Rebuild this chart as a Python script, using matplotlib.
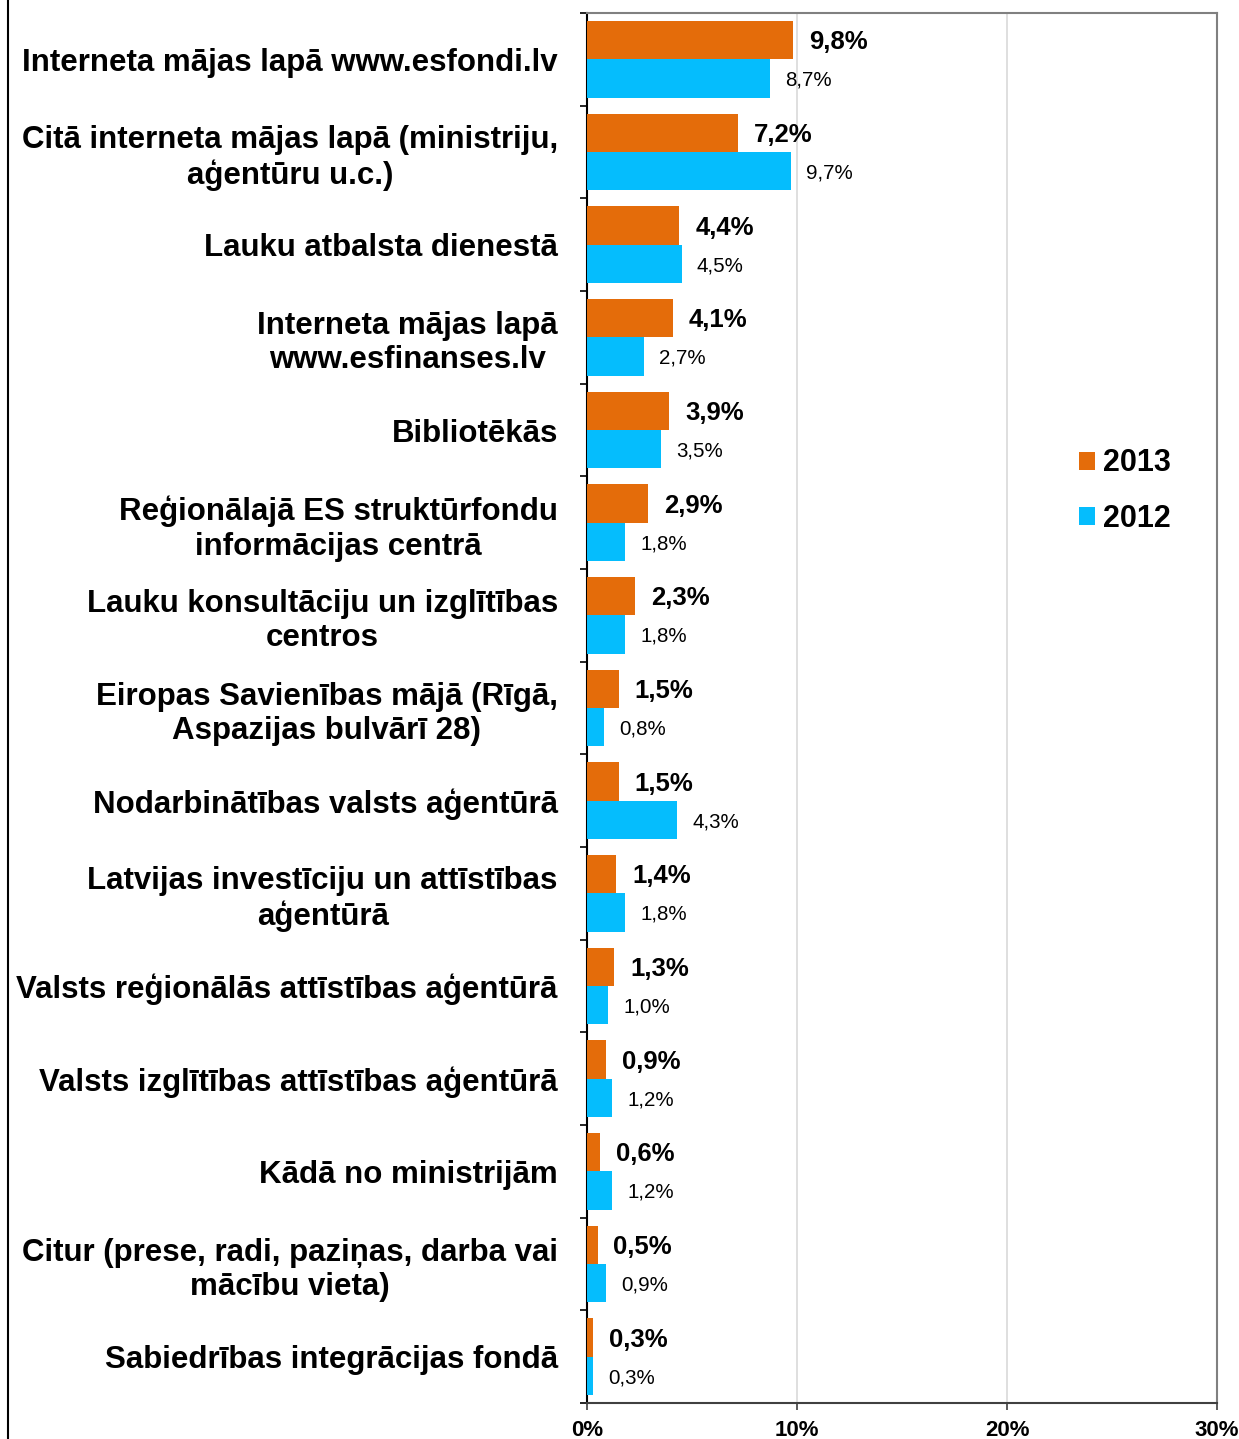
import matplotlib
matplotlib.use("Agg")
import matplotlib.pyplot as plt
from matplotlib.patches import Patch
from matplotlib.lines import Line2D
import numpy as np

categories = [
    "Interneta mājas lapā www.esfondi.lv",
    "Citā interneta mājas lapā (ministriju,\naģentūru u.c.)",
    "Lauku atbalsta dienestā",
    "Interneta mājas lapā\nwww.esfinanses.lv",
    "Bibliotēkās",
    "Reģionālajā ES struktūrfondu\ninformācijas centrā",
    "Lauku konsultāciju un izglītības\ncentros",
    "Eiropas Savienības mājā (Rīgā,\nAspazijas bulvārī 28)",
    "Nodarbinātības valsts aģentūrā",
    "Latvijas investīciju un attīstības\naģentūrā",
    "Valsts reģionālās attīstības aģentūrā",
    "Valsts izglītības attīstības aģentūrā",
    "Kādā no ministrijām",
    "Citur (prese, radi, paziņas, darba vai\nmācību vieta)",
    "Sabiedrības integrācijas fondā",
]
values_2013 = [9.8, 7.2, 4.4, 4.1, 3.9, 2.9, 2.3, 1.5, 1.5, 1.4, 1.3, 0.9, 0.6, 0.5, 0.3]
values_2012 = [8.7, 9.7, 4.5, 2.7, 3.5, 1.8, 1.8, 0.8, 4.3, 1.8, 1.0, 1.2, 1.2, 0.9, 0.3]
series_names = ["2013", "2012"]
x_ticks = [0, 10, 20, 30]
x_tick_labels = ["0%", "10%", "20%", "30%"]

c2013 = "#E46C0A"
c2012 = "#05BDFD"

plt.rcParams['font.family'] = ['Liberation Sans', 'DejaVu Sans']

W, H = 1239, 1439
fig = plt.figure(figsize=(W / 100, H / 100), dpi=100)
ax = fig.add_axes([587 / W, 1 - 1403 / H, (1217 - 587) / W, (1403 - 13) / H])

n = len(categories)
y = np.arange(n)
bh = 0.415
ax.barh(y - bh / 2, values_2013, height=bh, color=c2013, zorder=3)
ax.barh(y + bh / 2, values_2012, height=bh, color=c2012, zorder=3)

def fmt(v):
    return f"{v:.1f}".replace(".", ",") + "%"

for i in range(n):
    ax.annotate(fmt(values_2013[i]), (values_2013[i], y[i] - bh / 2), xytext=(11.5, -1.5),
                textcoords="offset points", va="center", ha="left",
                fontsize=18.5, fontweight="bold", color="black")
    ax.annotate(fmt(values_2012[i]), (values_2012[i], y[i] + bh / 2), xytext=(11, -1.2),
                textcoords="offset points", va="center", ha="left",
                fontsize=14.8, color="black")

ax.set_xlim(0, 30)
ax.set_ylim(n - 0.5, -0.5)
ax.set_xticks(x_ticks)
ax.set_xticklabels(x_tick_labels, fontsize=16, fontweight="bold")
ax.tick_params(axis="x", direction="out", length=5, width=1.2, color="#404040", pad=7)

ax.set_yticks(y)
ax.set_yticklabels(categories, fontsize=22.5, fontweight="bold", ha="right",
                   multialignment="center", linespacing=1.2)
ax.tick_params(axis="y", which="major", length=0, pad=21)
ax.set_yticks(np.arange(n + 1) - 0.5, minor=True)
ax.tick_params(axis="y", which="minor", direction="out", length=5, width=1.2, color="black")

ax.grid(axis="x", color="#D9D9D9", linewidth=1.2, zorder=0)
ax.set_axisbelow(True)

ax.spines["left"].set_color("black")
ax.spines["left"].set_linewidth(1.5)
ax.spines["bottom"].set_color("#404040")
ax.spines["bottom"].set_linewidth(1.5)
ax.spines["top"].set_color("#808080")
ax.spines["top"].set_linewidth(1.5)
ax.spines["right"].set_color("#808080")
ax.spines["right"].set_linewidth(1.5)

handles = [Patch(facecolor=c2013, label=series_names[0]),
           Patch(facecolor=c2012, label=series_names[1])]
leg = ax.legend(handles=handles, loc="center left",
                bbox_to_anchor=((1079 - 587) / 630, 1 - (491 - 13) / 1390),
                frameon=False, prop={"size": 22, "weight": "bold"}, handlelength=0.52,
                handleheight=0.52, handletextpad=0.26, labelspacing=0.82, borderpad=0,
                borderaxespad=0)

fig.add_artist(Line2D([8 / W, 8 / W], [0, 1], color="black", linewidth=1.5, transform=fig.transFigure))

fig.savefig("out.png", dpi=100)
